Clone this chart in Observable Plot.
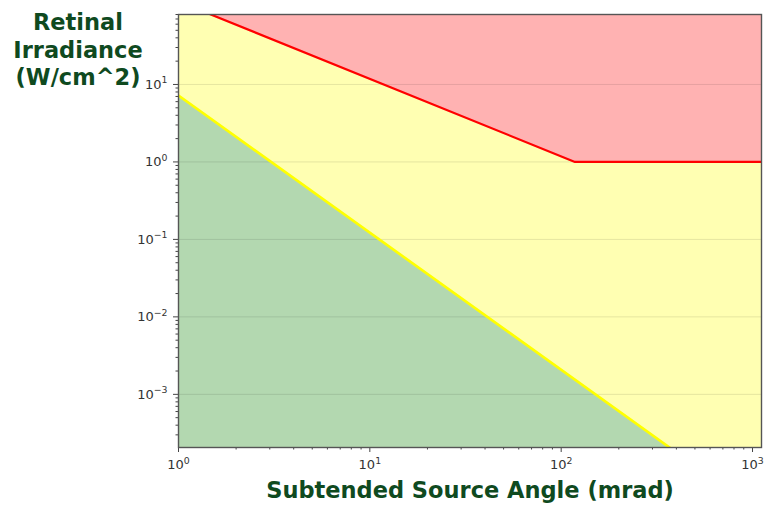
<!DOCTYPE html>
<html>
<head>
<meta charset="utf-8">
<script src="https://cdn.jsdelivr.net/npm/d3@7"></script>
<script src="https://cdn.jsdelivr.net/npm/@observablehq/plot@0.6"></script>
<style>
  html, body { margin: 0; padding: 0; background: #fff; }
  #chart svg { display: block; }
</style>
</head>
<body>
<div id="chart"></div>
<script>
// Boundary lines (angle in mrad, retinal irradiance in W/cm^2)
const redAngle = [1, 118, 2000];
const redIrr = [118, 1, 1];
const yellowAngle = [1, 400];
const yellowIrr = [7.2, 1.78e-4];

const xMajor = [1, 10, 100, 1000];
const yMajor = [1e-3, 1e-2, 1e-1, 1, 10];
const xDomain = [1, 1114];
const yDomain = [2.06e-4, 80];

const xTitle = "Subtended Source Angle (mrad)";
const yTitle = ["Retinal", "Irradiance", "(W/cm^2)"];

const redData = redAngle.map((a, i) => ({a, e: redIrr[i]}));
const yellowData = yellowAngle.map((a, i) => ({a, e: yellowIrr[i]}));

// labels written as "10^k"; turned into a real superscript after rendering
const fmt = d => "10^" + Math.round(Math.log10(d));
const blank = () => "";

function minors(dom) {
  const out = [];
  for (let p = -5; p <= 4; p++) for (let m = 2; m <= 9; m++) {
    const v = m * Math.pow(10, p);
    if (v >= dom[0] && v <= dom[1]) out.push(v);
  }
  return out;
}

const tickColor = "#333";
const chart = Plot.plot({
  width: 765,
  height: 507,
  marginLeft: 178,
  marginRight: 4,
  marginTop: 14,
  marginBottom: 60,
  style: {fontFamily: "DejaVu Sans", background: "#fff"},
  x: {type: "log", domain: xDomain},
  y: {type: "log", domain: yDomain},
  marks: [
    Plot.frame({fill: "#ffffb2"}),
    Plot.areaY(yellowData, {x: "a", y1: 1e-7, y2: "e", fill: "#b3d8b0", clip: true}),
    Plot.areaY(redData, {x: "a", y1: "e", y2: 1e5, fill: "#ffb2b2", clip: true}),
    Plot.gridY(yMajor, {stroke: "#000", strokeOpacity: 0.1, strokeWidth: 1}),
    Plot.line(redData, {x: "a", y: "e", stroke: "#ff0000", strokeWidth: 2.2, clip: true}),
    Plot.line(yellowData, {x: "a", y: "e", stroke: "#ffff00", strokeWidth: 2.6, clip: true}),
    Plot.axisX(xMajor, {anchor: "bottom", tickSize: 5, tickPadding: 7, tickFormat: fmt, stroke: "#444", fill: tickColor, label: null, fontSize: 13}),
    Plot.axisX(minors(xDomain), {anchor: "bottom", tickSize: 2.5, tickFormat: blank, stroke: "#444", label: null}),
    Plot.axisY(yMajor, {anchor: "left", tickSize: 5, tickPadding: 6, tickFormat: fmt, stroke: "#444", fill: tickColor, label: null, fontSize: 13}),
    Plot.axisY(minors(yDomain), {anchor: "left", tickSize: 2.5, tickFormat: blank, stroke: "#444", label: null}),
    Plot.frame({stroke: "#555", strokeWidth: 1.4})
  ]
});

const svg = d3.select(chart);
svg.selectAll("text").each(function() {
  const t = this.textContent;
  const m = /^10\^(-?\d+)$/.exec(t);
  if (!m) return;
  const sel = d3.select(this);
  sel.text(null);
  sel.append("tspan").text("10");
  sel.append("tspan").attr("font-size", "0.72em").attr("dy", "-0.55em")
    .text(m[1].replace("-", "\u2212"));
});

const titleColor = "#0f4a1f";
svg.append("text")
  .attr("x", 470).attr("y", 498)
  .attr("text-anchor", "middle")
  .attr("font-family", "DejaVu Sans").attr("font-weight", "bold")
  .attr("font-size", 22.5).attr("fill", titleColor)
  .text(xTitle);
yTitle.forEach((t, i) => {
  svg.append("text")
    .attr("x", 78).attr("y", 30 + i * 27.5)
    .attr("text-anchor", "middle")
    .attr("font-family", "DejaVu Sans").attr("font-weight", "bold")
    .attr("font-size", 22.5).attr("fill", titleColor)
    .text(t);
});

document.getElementById("chart").appendChild(chart);
</script>
</body>
</html>
